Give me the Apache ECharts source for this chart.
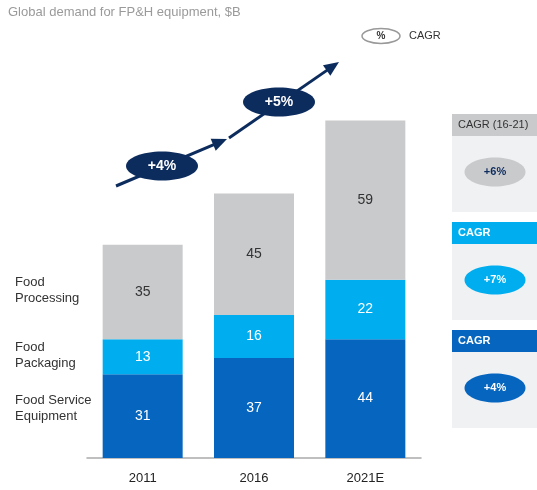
<!DOCTYPE html>
<html>
<head>
<meta charset="utf-8">
<script src="https://cdn.jsdelivr.net/npm/echarts@6/dist/echarts.min.js"></script>
<style>
  html, body { margin: 0; padding: 0; background: #fff; }
  #chart { width: 537px; height: 490px; }
</style>
</head>
<body>
<div id="chart"></div>
<script>
// data
const years = ['2011', '2016', '2021E'];
const serviceEquip = [31, 37, 44];
const packaging = [13, 16, 22];
const processing = [35, 45, 59];
const totals = [80, 97, 126];
const cagrPeriods = ['+4%', '+5%'];
const segmentCagr = ['+6%', '+7%', '+4%'];

const FONT = 'Liberation Sans, Arial, sans-serif';
const DARK = '#0665BE';
const LIGHT = '#00AEEF';
const GREY = '#C9CACC';
const NAVY = '#0D2C5E';

const chart = echarts.init(document.getElementById('chart'));

// arrow = line + head, drawn as graphic
const arrow = (x1, y1, x2, y2) => {
    const a = Math.atan2(y2 - y1, x2 - x1);
    const len = 15, half = 6.5;
    const bx = x2 - len * Math.cos(a), by = y2 - len * Math.sin(a);
    const px = -Math.sin(a) * half, py = Math.cos(a) * half;
    return [
        { type: 'line', shape: { x1: x1, y1: y1, x2: bx + 2 * Math.cos(a), y2: by + 2 * Math.sin(a) }, style: { stroke: NAVY, lineWidth: 3 } },
        { type: 'polygon', shape: { points: [[x2, y2], [bx + px, by + py], [bx - px, by - py]] }, style: { fill: NAVY } }
    ];
};

const bubble = (cx, cy, rx, ry, fill, text, color, size) => ([
    { type: 'ellipse', shape: { cx: cx, cy: cy, rx: rx, ry: ry }, style: { fill: fill } },
    { type: 'text', x: cx, y: cy, style: { text: text, fill: color, font: 'bold ' + size + 'px ' + FONT, align: 'center', verticalAlign: 'middle' } }
]);

const panel = (top, headFill, headText, headColor, headBold, bubbleFill, val, valColor) => ([
    { type: 'rect', shape: { x: 452, y: top, width: 85, height: 22 }, style: { fill: headFill } },
    { type: 'text', x: 458, y: top + 11, style: { text: headText, fill: headColor, font: (headBold ? 'bold ' : '') + '11px ' + FONT, verticalAlign: 'middle' } },
    { type: 'rect', shape: { x: 452, y: top + 22, width: 85, height: 76 }, style: { fill: '#F0F1F3' } },
    ...bubble(495, top + 58, 30.5, 14.5, bubbleFill, val, valColor, 11)
]);

const sideLabel = (y, text) => ({
    type: 'text', x: 15, y: y,
    style: { text: text, fill: '#333', font: '13px ' + FONT, lineHeight: 16, verticalAlign: 'middle' }
});

const segLabel = (color) => ({
    show: true, position: 'inside', color: color, fontSize: 14, fontFamily: FONT
});

const option = {
    animation: false,
    grid: { left: 87, right: 116, top: 80, bottom: 32 },
    xAxis: {
        type: 'category',
        data: years,
        axisLine: { lineStyle: { color: '#AAAAAA', width: 1.5 } },
        axisTick: { show: false },
        axisLabel: { color: '#222', fontSize: 13, fontFamily: FONT, margin: 14 }
    },
    yAxis: { type: 'value', min: 0, max: 140, show: false, splitLine: { show: false } },
    series: [
        { name: 'Food Service Equipment', type: 'bar', stack: 'd', barWidth: 80, data: serviceEquip,
          itemStyle: { color: DARK }, label: segLabel('#fff') },
        { name: 'Food Packaging', type: 'bar', stack: 'd', barWidth: 80, data: packaging,
          itemStyle: { color: LIGHT }, label: segLabel('#fff') },
        { name: 'Food Processing', type: 'bar', stack: 'd', barWidth: 80, data: processing,
          itemStyle: { color: GREY }, label: segLabel('#333') },
        { name: 'Total', type: 'scatter', data: totals, symbolSize: 1, itemStyle: { opacity: 0 },
          label: { show: true, position: 'top', distance: 5, color: '#333', fontSize: 14, fontFamily: FONT,
                   formatter: (p) => String(p.value) } }
    ],
    graphic: [
        { type: 'text', x: 8, y: 12, style: { text: 'Global demand for FP&H equipment, $B', fill: '#9A9A9A', font: '13px ' + FONT, verticalAlign: 'middle' } },
        // legend
        { type: 'ellipse', shape: { cx: 381, cy: 36, rx: 19, ry: 7.5 }, style: { fill: '#fff', stroke: '#999', lineWidth: 1.5 } },
        { type: 'text', x: 381, y: 36, style: { text: '%', fill: '#333', font: 'bold 10px ' + FONT, align: 'center', verticalAlign: 'middle' } },
        { type: 'text', x: 409, y: 36, style: { text: 'CAGR', fill: '#333', font: '11px ' + FONT, verticalAlign: 'middle' } },
        // growth arrows
        ...arrow(116, 186, 227, 139),
        ...arrow(229, 138, 339, 62),
        ...bubble(162, 166, 36, 14.5, NAVY, cagrPeriods[0], '#fff', 14),
        ...bubble(279, 102, 36, 14.5, NAVY, cagrPeriods[1], '#fff', 14),
        // side labels
        sideLabel(290, 'Food\nProcessing'),
        sideLabel(355, 'Food\nPackaging'),
        sideLabel(408, 'Food Service\nEquipment'),
        // CAGR panels
        ...panel(114, GREY, 'CAGR (16-21)', '#333', false, GREY, segmentCagr[0], NAVY),
        ...panel(222, LIGHT, 'CAGR', '#fff', true, LIGHT, segmentCagr[1], '#fff'),
        ...panel(330, DARK, 'CAGR', '#fff', true, DARK, segmentCagr[2], '#fff')
    ]
};

chart.setOption(option);
</script>
</body>
</html>
